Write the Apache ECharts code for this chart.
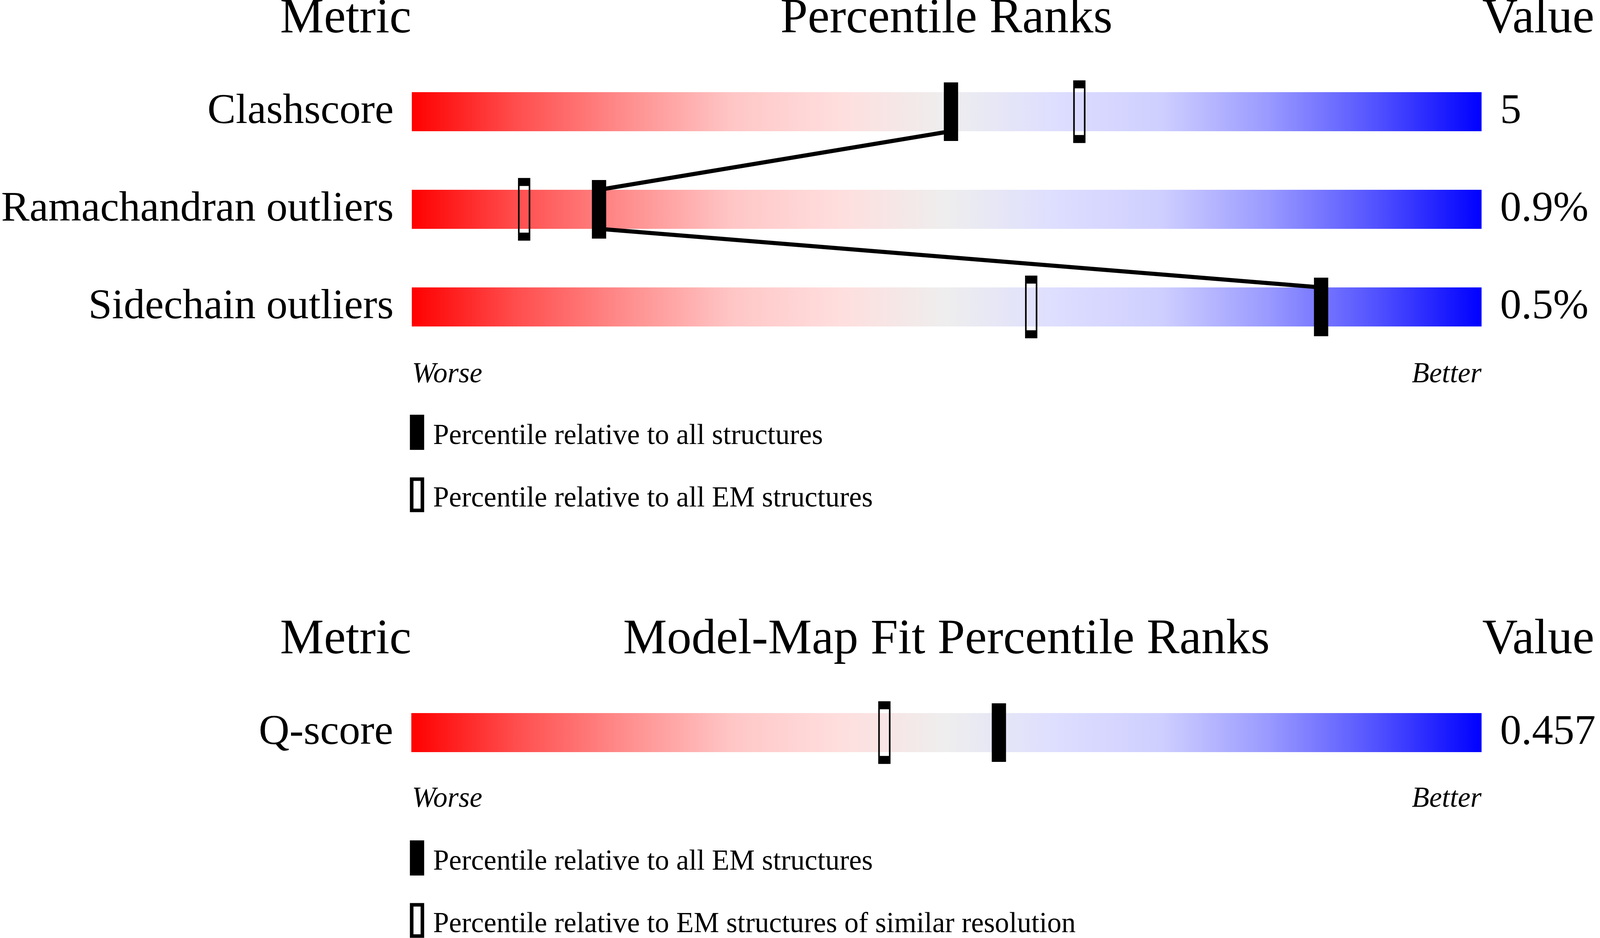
<!DOCTYPE html>
<html>
<head>
<meta charset="utf-8">
<script src="https://cdn.jsdelivr.net/npm/echarts@6/dist/echarts.min.js"></script>
<style>
html,body{margin:0;padding:0;background:#fff;overflow:hidden;}
#chart{width:100vw;height:100vh;}
</style>
</head>
<body>
<div id="chart"></div>
<script>
// ---- data ----
const metricsTop = ['Clashscore', 'Ramachandran outliers', 'Sidechain outliers'];
const valuesTop = ['5', '0.9%', '0.5%'];
const pctAllTop = [50.4, 17.5, 85.0];      // percentile relative to all structures
const pctEMTop = [62.4, 10.5, 57.9];       // percentile relative to all EM structures
const metricsBottom = ['Q-score'];
const valuesBottom = ['0.457'];
const pctEMBottom = [54.9];                // percentile relative to all EM structures
const pctSimilarBottom = [44.2];           // relative to EM structures of similar resolution
const headersTop = ['Metric', 'Percentile Ranks', 'Value'];
const headersBottom = ['Metric', 'Model-Map Fit Percentile Ranks', 'Value'];
const scaleEnds = ['Worse', 'Better'];
const legendTop = ['Percentile relative to all structures', 'Percentile relative to all EM structures'];
const legendBottom = ['Percentile relative to all EM structures', 'Percentile relative to EM structures of similar resolution'];
const scaleMax = 100;

// ---- layout (designed for a 4485 x 2402 canvas, scaled to the real viewport) ----
const dom = document.getElementById('chart');
const chart = echarts.init(dom, null, {renderer: 'canvas'});
const sx = chart.getWidth() / 4485;
const sy = chart.getHeight() / 2402;
const s = Math.min(sx, sy);
const X = v => v * sx, Y = v => v * sy, S = v => v * s;

const FONT = "'Liberation Serif','Times New Roman',serif";
const gradient = new echarts.graphic.LinearGradient(0, 0, 1, 0, [
  {offset: 0, color: '#ff0000'},
  {offset: 0.1, color: '#ff4f4f'},
  {offset: 0.2, color: '#ff8d8d'},
  {offset: 0.3, color: '#ffc6c6'},
  {offset: 0.4, color: '#ffdede'},
  {offset: 0.5, color: '#eeeeee'},
  {offset: 0.6, color: '#dedeff'},
  {offset: 0.7, color: '#cfcfff'},
  {offset: 0.8, color: '#9a9aff'},
  {offset: 0.9, color: '#5353ff'},
  {offset: 1, color: '#0000ff'}
]);

const BAR_H = 100;
const LEFT = 1153, WIDTH = 3000;

function yAxes(gridIndex, cats, vals) {
  const common = {
    type: 'category', gridIndex: gridIndex, inverse: true,
    axisLine: {show: false}, axisTick: {show: false}, splitLine: {show: false}
  };
  return [
    Object.assign({}, common, {
      position: 'left', data: cats,
      axisLabel: {fontFamily: FONT, fontSize: S(119), color: '#000', margin: X(51), padding: [S(20), 0, 0, 0]}
    }),
    Object.assign({}, common, {
      position: 'right', data: vals,
      axisLabel: {fontFamily: FONT, fontSize: S(119), color: '#000', margin: X(52), padding: [S(20), 0, 0, 0]}
    })
  ];
}

function connectorSeries(xAxisIndex, yAxisIndex, pcts) {
  const data = [];
  for (let i = 0; i < pcts.length - 1; i++) data.push([pcts[i], i, pcts[i + 1], i + 1]);
  return {
    type: 'custom', xAxisIndex: xAxisIndex, yAxisIndex: yAxisIndex, z: 3, silent: true,
    data: data,
    renderItem: function (params, api) {
      const a = api.coord([api.value(0), api.value(1)]);
      const b = api.coord([api.value(2), api.value(3)]);
      return {
        type: 'line',
        shape: {x1: a[0], y1: a[1] + Y(BAR_H / 2), x2: b[0], y2: b[1] - Y(BAR_H / 2)},
        style: {stroke: '#000', lineWidth: S(11.5)}
      };
    }
  };
}

function filledMarkers(xi, yi, pcts) {
  return {
    type: 'scatter', xAxisIndex: xi, yAxisIndex: yi, z: 4, silent: true,
    symbol: 'rect', symbolSize: [X(40), Y(150)],
    itemStyle: {color: '#000', opacity: 1},
    data: pcts.map((p, i) => [p, i])
  };
}
function openMarkers(xi, yi, pcts) {
  return {
    type: 'scatter', xAxisIndex: xi, yAxisIndex: yi, z: 4, silent: true,
    symbol: 'rect', symbolSize: [X(30), Y(140)],
    itemStyle: {color: 'rgba(0,0,0,0)', borderColor: '#000', borderWidth: S(10), opacity: 1},
    data: pcts.map((p, i) => [p, i])
  };
}
function gradientBars(xi, yi, cats) {
  return {
    type: 'bar', xAxisIndex: xi, yAxisIndex: yi, z: 2, silent: true,
    barWidth: Y(BAR_H), itemStyle: {color: gradient},
    data: cats.map(() => scaleMax)
  };
}

function textEl(x, baseline, text, size, align, italic) {
  return {
    type: 'text', x: X(x), y: Y(baseline - 0.3375 * size), silent: true,
    style: {
      text: text, fill: '#000', font: (italic ? 'italic ' : '') + S(size) + 'px ' + FONT,
      align: align, verticalAlign: 'middle'
    }
  };
}

function sectionGraphics(headers, headerBase, endsBase, legends, legTop) {
  const g = [];
  g.push(textEl(LEFT, headerBase, headers[0], 138, 'right'));
  g.push(textEl(LEFT + WIDTH / 2, headerBase, headers[1], 138, 'center'));
  g.push(textEl(LEFT + WIDTH + 2, headerBase, headers[2], 138, 'left'));
  g.push(textEl(LEFT + 2, endsBase, scaleEnds[0], 80, 'left', true));
  g.push(textEl(LEFT + WIDTH, endsBase, scaleEnds[1], 80, 'right', true));
  // legend: filled then open
  g.push({type: 'rect', silent: true, shape: {x: X(1149), y: Y(legTop), width: X(40), height: Y(90)}, style: {fill: '#000'}});
  g.push(textEl(1214, legTop + 83, legends[0], 80, 'left'));
  g.push({type: 'rect', silent: true, shape: {x: X(1154), y: Y(legTop + 165), width: X(30), height: Y(80)},
          style: {fill: 'none', stroke: '#000', lineWidth: S(10)}});
  g.push(textEl(1214, legTop + 243, legends[1], 80, 'left'));
  return g;
}

const option = {
  animation: false,
  backgroundColor: '#ffffff',
  grid: [
    {left: X(LEFT), width: X(WIDTH), top: Y(161), height: Y(750)},
    {left: X(LEFT), width: X(WIDTH), top: Y(1751), height: Y(250)}
  ],
  xAxis: [
    {type: 'value', gridIndex: 0, min: 0, max: scaleMax, show: false},
    {type: 'value', gridIndex: 1, min: 0, max: scaleMax, show: false}
  ],
  yAxis: [].concat(yAxes(0, metricsTop, valuesTop), yAxes(1, metricsBottom, valuesBottom)),
  series: [
    gradientBars(0, 0, metricsTop),
    connectorSeries(0, 0, pctAllTop),
    filledMarkers(0, 0, pctAllTop),
    openMarkers(0, 0, pctEMTop),
    gradientBars(1, 2, metricsBottom),
    filledMarkers(1, 2, pctEMBottom),
    openMarkers(1, 2, pctSimilarBottom)
  ],
  graphic: [].concat(
    sectionGraphics(headersTop, 96, 987, legendTop, 1062),
    sectionGraphics(headersBottom, 1686, 2074, legendBottom, 2152)
  )
};
chart.setOption(option);
</script>
</body>
</html>
